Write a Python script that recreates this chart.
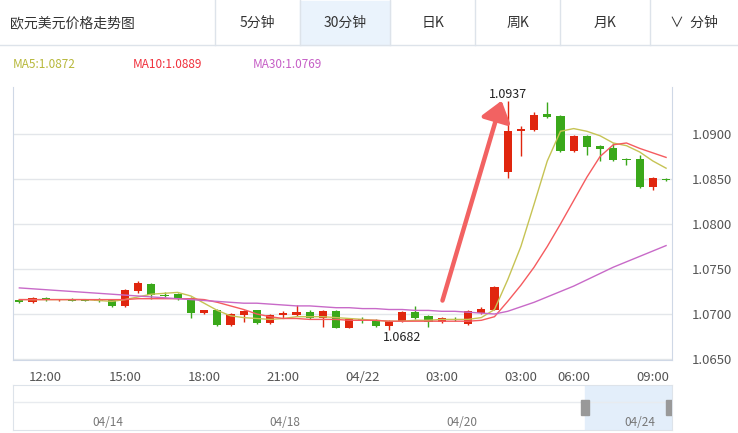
import numpy as np, pandas as pd, matplotlib
matplotlib.use("Agg")
import matplotlib.pyplot as plt, seaborn as sns
from matplotlib.patches import Rectangle, FancyArrowPatch
plt.rcParams["font.family"] = ["Noto Sans CJK SC", "DejaVu Sans"]

opens = [1.0716,1.0713,1.0718,1.0716,1.0717,1.0716,1.0717,1.0716,1.0709,1.0726,1.0733,1.0721,1.0722,1.0718,1.0701,1.0705,1.0688,1.0699,1.0704,1.0690,
         1.0699,1.0699,1.0702,1.0696,1.0703,1.0685,1.0695,1.0693,1.0687,1.0692,1.0702,1.0698,1.0691,1.0695,1.0689,1.0701,1.0705,1.0858,1.0903,1.0904,
         1.0922,1.0920,1.0881,1.0898,1.0887,1.0884,1.0872,1.0872,1.0841,1.0850]
closes = [1.0713,1.0718,1.0716,1.07165,1.0715,1.0715,1.0714,1.0709,1.0727,1.0734,1.0721,1.0720,1.0717,1.0701,1.0704,1.0688,1.0700,1.0703,1.0690,1.0699,
          1.0701,1.0702,1.0696,1.0703,1.0685,1.0695,1.0693,1.0687,1.0692,1.0702,1.0696,1.0691,1.0696,1.0693,1.0703,1.0706,1.0730,1.0903,1.0906,1.0921,
          1.0919,1.0881,1.0898,1.0886,1.0883,1.0871,1.0871,1.0841,1.0851,1.0849]
highs = [1.0716,1.0719,1.0719,1.0717,1.0718,1.0717,1.0718,1.0717,1.0728,1.0737,1.0734,1.0725,1.0723,1.0719,1.0705,1.0706,1.0701,1.0704,1.0705,1.0700,
         1.0703,1.0710,1.0705,1.0704,1.0704,1.0696,1.0697,1.0694,1.0693,1.0703,1.0709,1.0699,1.0697,1.0697,1.0704,1.0708,1.0731,1.0937,1.0909,1.0924,
         1.0935,1.0921,1.0899,1.0899,1.0888,1.0890,1.0873,1.0877,1.0852,1.0851]
lows = [1.0712,1.0712,1.0715,1.0715,1.0714,1.0714,1.0713,1.0708,1.0708,1.0723,1.0717,1.0719,1.0716,1.0696,1.0700,1.0687,1.0687,1.0691,1.0689,1.0689,
        1.0696,1.0698,1.0695,1.0686,1.0684,1.0684,1.0690,1.0686,1.0682,1.0691,1.0695,1.0686,1.0690,1.0692,1.0688,1.0700,1.0704,1.0851,1.0876,1.0903,
        1.0918,1.0880,1.0880,1.0877,1.0870,1.0870,1.0866,1.0840,1.0838,1.0848]
ma5 = [1.0716,1.0716,1.0716,1.0716,1.0716,1.0716,1.0715,1.0714,1.0716,1.0719,1.0722,1.0723,1.0724,1.0720,1.0712,1.0704,1.0698,1.0696,1.0695,1.0694,
       1.0695,1.0697,1.0697,1.0697,1.0696,1.0695,1.0694,1.0693,1.0692,1.0692,1.0693,1.0693,1.0694,1.0694,1.0694,1.0696,1.0705,1.0738,1.0775,1.0822,
       1.0870,1.0903,1.0906,1.0903,1.0898,1.0890,1.0887,1.0880,1.0870,1.0862]
ma10 = [1.0716,1.0716,1.0716,1.0716,1.0716,1.0716,1.0716,1.0716,1.0716,1.0717,1.0717,1.0717,1.0717,1.0717,1.0716,1.0713,1.0709,1.0705,1.0700,1.0697,
        1.0695,1.0695,1.0694,1.0694,1.0694,1.0693,1.0693,1.0693,1.0692,1.0692,1.0692,1.0692,1.0692,1.0692,1.0692,1.0693,1.0697,1.0714,1.0732,1.0752,
        1.0775,1.0800,1.0826,1.0852,1.0875,1.0888,1.0890,1.0884,1.0879,1.0874]
ma30 = [1.0729,1.0728,1.0727,1.0726,1.0725,1.0724,1.0723,1.0722,1.0721,1.0720,1.0719,1.0718,1.0717,1.0716,1.0715,1.0714,1.0713,1.0712,1.0712,1.0711,
        1.0710,1.0709,1.0709,1.0708,1.0707,1.0707,1.0706,1.0706,1.0705,1.0705,1.0704,1.0704,1.0703,1.0703,1.0702,1.0701,1.0700,1.0703,1.0708,1.0713,
        1.0719,1.0725,1.0731,1.0738,1.0745,1.0752,1.0758,1.0764,1.0770,1.0776]
tick_pos = [2, 8, 14, 20, 26, 32, 38, 42, 48]
tick_labels = ["12:00","15:00","18:00","21:00","04/22","03:00","03:00","06:00","09:00"]
y_ticks = [1.0650,1.0700,1.0750,1.0800,1.0850,1.0900]
tabs = ["5分钟","30分钟","日K","周K","月K","∨  分钟"]
nav_labels = ["04/14","04/18","04/20","04/24"]

RED, GREEN = "#e0260e", "#3aa81a"
W, H = 738, 433
fig = plt.figure(figsize=(7.38, 4.33), dpi=100)
fx = lambda x: x / W
fy = lambda y: 1 - y / H

# header
fig.text(fx(10), fy(23), "欧元美元价格走势图", fontsize=10, va="center", color="#333")
edges = [215, 300, 390, 475, 560, 650, 738]
fig.add_artist(Rectangle((fx(300), fy(45)), fx(90), 44/H, transform=fig.transFigure, color="#eaf3fc", zorder=0))
for i, t in enumerate(tabs):
    fig.text(fx((edges[i]+edges[i+1])/2), fy(23), t, fontsize=10, ha="center", va="center", color="#333")
for e in edges[:-1]:
    fig.add_artist(plt.Line2D([fx(e), fx(e)], [fy(0), fy(45)], color="#dde3ea", lw=1))
fig.add_artist(plt.Line2D([0, 1], [fy(45), fy(45)], color="#dde3ea", lw=1))
fig.text(fx(13), fy(64), "MA5:1.0872", fontsize=8.5, color="#b7b83a", va="center")
fig.text(fx(133), fy(64), "MA10:1.0889", fontsize=8.5, color="#f0303c", va="center")
fig.text(fx(253), fy(64), "MA30:1.0769", fontsize=8.5, color="#c65ec6", va="center")

ax = fig.add_axes([fx(13), fy(360), fx(672-13), (360-87)/H])
n = len(opens)
idx = np.arange(n)
df = pd.DataFrame({"i": idx, "o": opens, "c": closes, "h": highs, "l": lows, "ma5": ma5, "ma10": ma10, "ma30": ma30})
cols = [RED if c >= o else GREEN for o, c in zip(opens, closes)]
ax.vlines(df.i, df.l, df.h, colors=cols, lw=1, zorder=2)
bot = np.minimum(df.o, df.c)
hgt = np.maximum(np.abs(df.c - df.o), 0.00006)
ax.bar(df.i, hgt, bottom=bot, width=0.62, color=cols, zorder=3)
sns.lineplot(data=df, x="i", y="ma5", ax=ax, color="#c6c354", lw=1, zorder=4)
sns.lineplot(data=df, x="i", y="ma10", ax=ax, color="#f55b5f", lw=1, zorder=4)
sns.lineplot(data=df, x="i", y="ma30", ax=ax, color="#c86ac8", lw=1, zorder=4)
ax.set_xlim(-0.48, 49.45)
ax.set_ylim(1.06489, 1.09522)
ax.set_yticks(y_ticks)
ax.yaxis.tick_right()
ax.set_yticklabels([f"{v:.4f}" for v in y_ticks], color="#555", fontsize=9.5)
ax.tick_params(axis="y", length=0, pad=14)
ax.set_xticks(tick_pos)
ax.set_xticklabels(tick_labels, color="#555", fontsize=9.5)
ax.tick_params(axis="x", length=0, pad=8)
ax.set_xlabel(""); ax.set_ylabel("")
ax.grid(axis="y", color="#e3e6ea", lw=1)
ax.set_axisbelow(True)
for s in ax.spines.values():
    s.set_color("#cfd8e6")
ax.spines["top"].set_visible(False)
ax.add_patch(FancyArrowPatch((32.0, 1.0712), (36.6, 1.0940), arrowstyle="-|>,head_length=8,head_width=6",
                             mutation_scale=1.5, color="#f26262", lw=3.2, zorder=5))
ax.text(37, 1.0937, "1.0937", fontsize=9, ha="center", va="bottom", color="#222")
ax.text(29, 1.0681, "1.0682", fontsize=9, ha="center", va="top", color="#222")

# navigator
nav = fig.add_axes([fx(13), fy(430), fx(672-13), 45/H])
nav.set_xlim(0, 659); nav.set_ylim(0, 45)
for s in nav.spines.values():
    s.set_color("#dde3ea")
nav.set_xticks([]); nav.set_yticks([])
nav.axhline(28, color="#e8ebef", lw=1)
nav.add_patch(Rectangle((572, 0), 87, 45, color="#e3eefa", zorder=1))
for hx in (572, 657):
    nav.add_patch(Rectangle((hx-4, 15), 8, 15, color="#999", zorder=3))
for lbl, x in zip(nav_labels, [95, 272, 449, 627]):
    nav.text(x, 7, lbl, fontsize=8.5, ha="center", va="center", color="#777")

fig.savefig("out.png", dpi=100)
